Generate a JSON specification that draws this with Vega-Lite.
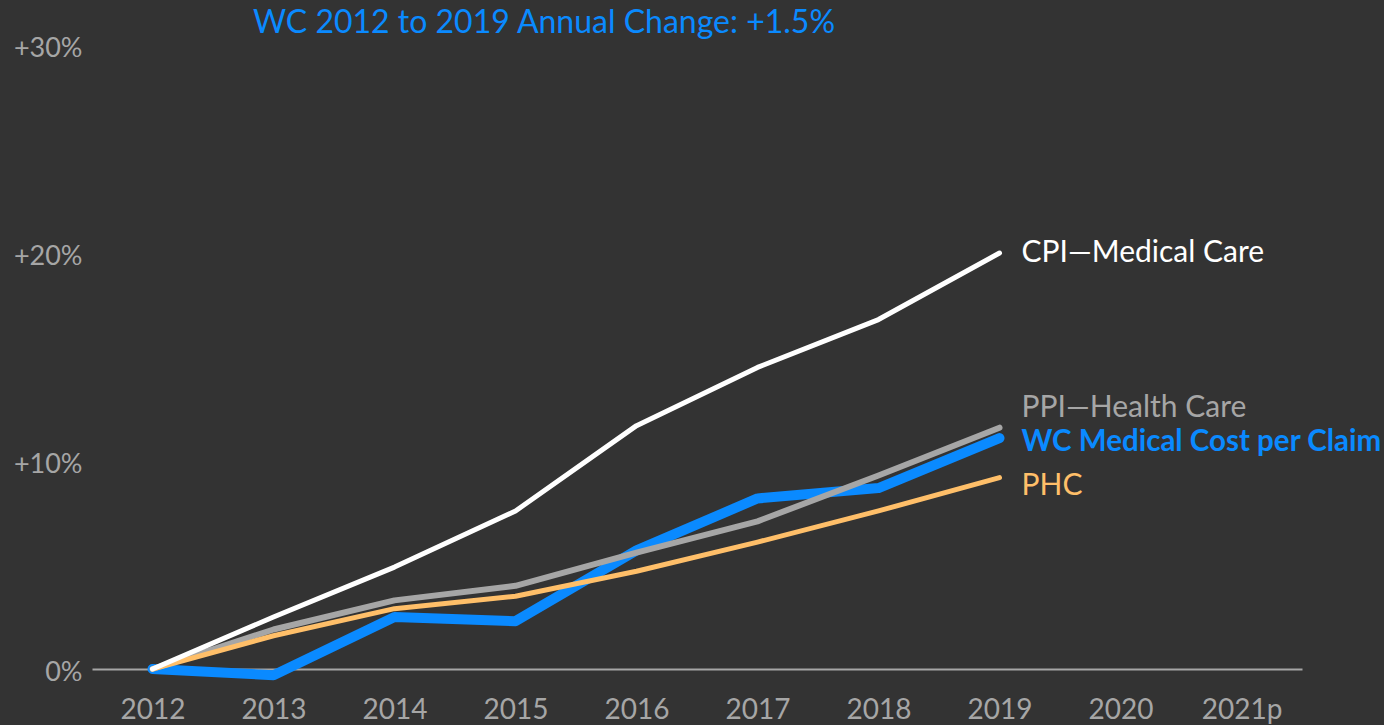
{
  "$schema": "https://vega.github.io/schema/vega-lite/v6.json",
  "width": 1210,
  "height": 624,
  "autosize": {"type": "none"},
  "padding": {"left": 92, "top": 45, "right": 82, "bottom": 56},
  "background": "#333333",
  "config": {"view": {"stroke": null}, "font": "Lato"},
  "title": {"text": "WC 2012 to 2019 Annual Change: +1.5%", "color": "#0a8aff", "fontSize": 32, "fontWeight": "normal", "anchor": "start", "dx": 161, "offset": -6, "frame": "group"},
  "datasets": {
    "series": [
      {"year": "2012", "series": "CPI—Medical Care", "value": 0},
      {"year": "2013", "series": "CPI—Medical Care", "value": 2.5},
      {"year": "2014", "series": "CPI—Medical Care", "value": 4.9},
      {"year": "2015", "series": "CPI—Medical Care", "value": 7.6},
      {"year": "2016", "series": "CPI—Medical Care", "value": 11.7},
      {"year": "2017", "series": "CPI—Medical Care", "value": 14.5},
      {"year": "2018", "series": "CPI—Medical Care", "value": 16.8},
      {"year": "2019", "series": "CPI—Medical Care", "value": 20.0},
      {"year": "2012", "series": "PPI—Health Care", "value": 0},
      {"year": "2013", "series": "PPI—Health Care", "value": 1.9},
      {"year": "2014", "series": "PPI—Health Care", "value": 3.3},
      {"year": "2015", "series": "PPI—Health Care", "value": 4.0},
      {"year": "2016", "series": "PPI—Health Care", "value": 5.6},
      {"year": "2017", "series": "PPI—Health Care", "value": 7.1},
      {"year": "2018", "series": "PPI—Health Care", "value": 9.3},
      {"year": "2019", "series": "PPI—Health Care", "value": 11.6},
      {"year": "2012", "series": "PHC", "value": 0},
      {"year": "2013", "series": "PHC", "value": 1.6},
      {"year": "2014", "series": "PHC", "value": 2.9},
      {"year": "2015", "series": "PHC", "value": 3.5},
      {"year": "2016", "series": "PHC", "value": 4.7},
      {"year": "2017", "series": "PHC", "value": 6.1},
      {"year": "2018", "series": "PHC", "value": 7.6},
      {"year": "2019", "series": "PHC", "value": 9.2},
      {"year": "2012", "series": "WC Medical Cost per Claim", "value": 0},
      {"year": "2013", "series": "WC Medical Cost per Claim", "value": -0.3},
      {"year": "2014", "series": "WC Medical Cost per Claim", "value": 2.5},
      {"year": "2015", "series": "WC Medical Cost per Claim", "value": 2.3},
      {"year": "2016", "series": "WC Medical Cost per Claim", "value": 5.7},
      {"year": "2017", "series": "WC Medical Cost per Claim", "value": 8.2},
      {"year": "2018", "series": "WC Medical Cost per Claim", "value": 8.7},
      {"year": "2019", "series": "WC Medical Cost per Claim", "value": 11.1}
    ]
  },
  "data": {"name": "series"},
  "encoding": {
    "x": {
      "field": "year", "type": "ordinal",
      "scale": {"type": "point", "padding": 0.5, "domain": ["2012", "2013", "2014", "2015", "2016", "2017", "2018", "2019", "2020", "2021p"]},
      "axis": {"title": null, "labelAngle": 0, "ticks": false, "domain": true, "domainColor": "#a6a6a6", "domainWidth": 2, "labelColor": "#a6a6a6", "labelFontSize": 28, "labelPadding": 27, "grid": false}
    },
    "y": {
      "field": "value", "type": "quantitative",
      "scale": {"domain": [0, 30], "nice": false, "zero": false},
      "axis": {"title": null, "values": [0, 10, 20, 30], "labelExpr": "datum.value == 0 ? '0%' : '+' + datum.value + '%'", "ticks": false, "domain": false, "grid": false, "labelColor": "#a6a6a6", "labelFontSize": 27, "labelPadding": 10, "labelBaseline": "middle", "labelOffset": 3}
    }
  },
  "layer": [
    {"transform": [{"filter": "datum.series == 'WC Medical Cost per Claim'"}], "mark": {"type": "line", "color": "#0a8aff", "strokeWidth": 10, "strokeCap": "round", "strokeJoin": "round", "clip": false}},
    {"transform": [{"filter": "datum.series == 'PPI—Health Care'"}], "mark": {"type": "line", "color": "#a6a6a6", "strokeWidth": 6, "strokeCap": "round", "strokeJoin": "round", "clip": false}},
    {"transform": [{"filter": "datum.series == 'PHC'"}], "mark": {"type": "line", "color": "#ffbf69", "strokeWidth": 5, "strokeCap": "round", "strokeJoin": "round", "clip": false}},
    {"transform": [{"filter": "datum.series == 'CPI—Medical Care'"}], "mark": {"type": "line", "color": "#ffffff", "strokeWidth": 5, "strokeCap": "round", "strokeJoin": "round", "clip": false}},
    {"transform": [{"filter": "datum.series == 'CPI—Medical Care' && datum.year == '2019'"}], "mark": {"type": "text", "align": "left", "baseline": "middle", "dx": 22, "dy": 0, "fontSize": 30, "color": "#ffffff"}, "encoding": {"text": {"field": "series"}}},
    {"transform": [{"filter": "datum.series == 'PPI—Health Care' && datum.year == '2019'"}], "mark": {"type": "text", "align": "left", "baseline": "middle", "dx": 22, "dy": -20, "fontSize": 30, "color": "#a6a6a6"}, "encoding": {"text": {"field": "series"}}},
    {"transform": [{"filter": "datum.series == 'WC Medical Cost per Claim' && datum.year == '2019'"}], "mark": {"type": "text", "align": "left", "baseline": "middle", "dx": 22, "dy": 4, "fontSize": 29.5, "fontWeight": "bold", "color": "#0a8aff"}, "encoding": {"text": {"field": "series"}}},
    {"transform": [{"filter": "datum.series == 'PHC' && datum.year == '2019'"}], "mark": {"type": "text", "align": "left", "baseline": "middle", "dx": 22, "dy": 8, "fontSize": 30, "color": "#ffbf69"}, "encoding": {"text": {"field": "series"}}}
  ]
}
